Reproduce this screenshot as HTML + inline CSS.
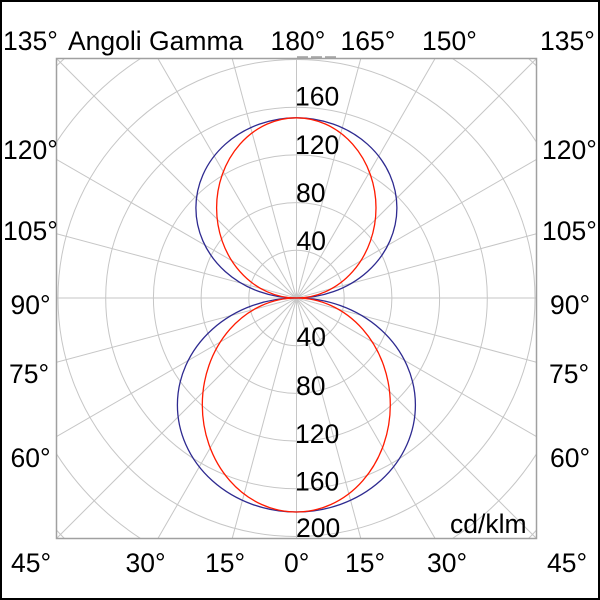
<!DOCTYPE html>
<html>
<head>
<meta charset="utf-8">
<style>
  html, body { margin:0; padding:0; background:#fff; width:600px; height:600px; overflow:hidden; }
  svg { display:block; }
  text { font-family: "Liberation Sans", Arial, sans-serif; font-size:26.5px; fill:#000; }
</style>
</head>
<body>
<svg width="600" height="600" viewBox="0 0 600 600" xmlns="http://www.w3.org/2000/svg">
  <defs>
    <clipPath id="box">
      <rect x="56.5" y="58.5" width="480" height="480"/>
    </clipPath>
  </defs>
  <rect x="0" y="0" width="600" height="600" fill="#fff"/>

  <g clip-path="url(#box)" stroke="#c6c6c6" stroke-width="1" fill="none">
    <circle cx="296.5" cy="298" r="47.7"/>
    <circle cx="296.5" cy="298" r="95.4"/>
    <circle cx="296.5" cy="298" r="143.1"/>
    <circle cx="296.5" cy="298" r="190.8"/>
    <circle cx="296.5" cy="298" r="238.5"/>
    <!-- r=286.2 corner arcs -->
    <path d="M56.5 142.1 A286.2 286.2 0 0 1 140.6 58.5"/>
    <path d="M452.4 58.5 A286.2 286.2 0 0 1 536.5 142.1"/>
    <path d="M536.5 453.9 A286.2 286.2 0 0 1 452.4 538.5"/>
    <path d="M140.6 538.5 A286.2 286.2 0 0 1 56.5 453.9"/>
    <!-- r=333.9 corner arcs -->
    <path d="M56.5 65.9 A333.9 333.9 0 0 1 64.4 58.5"/>
    <path d="M528.6 58.5 A333.9 333.9 0 0 1 536.5 65.9"/>
    <path d="M536.5 530.1 A333.9 333.9 0 0 1 528.6 538.5"/>
    <path d="M64.4 538.5 A333.9 333.9 0 0 1 56.5 530.1"/>
    <!-- spokes every 15 deg -->
    <line x1="296.5" y1="58.5" x2="296.5" y2="538.5"/>
    <line x1="56.5" y1="298" x2="536.5" y2="298"/>
    <line x1="232.2" y1="58.5" x2="360.8" y2="538.5"/>
    <line x1="360.8" y1="58.5" x2="232.2" y2="538.5"/>
    <line x1="157.9" y1="58.5" x2="435.1" y2="538.5"/>
    <line x1="435.1" y1="58.5" x2="157.9" y2="538.5"/>
    <line x1="56.5" y1="58.5" x2="536.5" y2="538.5"/>
    <line x1="536.5" y1="58.5" x2="56.5" y2="538.5"/>
    <line x1="56.5" y1="159.4" x2="536.5" y2="436.6"/>
    <line x1="536.5" y1="159.4" x2="56.5" y2="436.6"/>
    <line x1="56.5" y1="233.7" x2="536.5" y2="362.3"/>
    <line x1="536.5" y1="233.7" x2="56.5" y2="362.3"/>
  </g>

  <line x1="297" y1="57" x2="338" y2="57" stroke="#8a8a8a" stroke-width="1.2" stroke-dasharray="11,3"/>

  <rect x="56.5" y="58.5" width="480" height="480" fill="none" stroke="#a0a0a0" stroke-width="1.5"/>

  <g fill="none" stroke-width="1.3">
    <ellipse cx="296.4" cy="207.9" rx="100.5" ry="90.1" stroke="#2e2a90"/>
    <ellipse cx="296.4" cy="405" rx="119" ry="107" stroke="#2e2a90"/>
    <ellipse cx="296.3" cy="207.9" rx="79.7" ry="90.1" stroke="#ff1a00"/>
    <ellipse cx="296.3" cy="405" rx="94" ry="107" stroke="#ff1a00"/>
  </g>

  <text x="3" y="50">135°</text>
  <text x="68" y="50">Angoli Gamma</text>
  <text x="270.5" y="50">180°</text>
  <text x="340.5" y="50">165°</text>
  <text x="422" y="50">150°</text>
  <text x="540" y="50">135°</text>

  <text x="3" y="159">120°</text>
  <text x="3" y="240">105°</text>
  <text x="10.5" y="314">90°</text>
  <text x="9" y="383">75°</text>
  <text x="10.5" y="467">60°</text>

  <text x="542" y="159">120°</text>
  <text x="542" y="240">105°</text>
  <text x="550" y="314">90°</text>
  <text x="549" y="383">75°</text>
  <text x="550" y="467">60°</text>

  <text x="11" y="572">45°</text>
  <text x="125.5" y="572">30°</text>
  <text x="205" y="572">15°</text>
  <text x="284" y="572">0°</text>
  <text x="345" y="572">15°</text>
  <text x="427" y="572">30°</text>
  <text x="547" y="572">45°</text>

  <text x="295" y="105.7">160</text>
  <text x="295" y="154">120</text>
  <text x="296" y="202">80</text>
  <text x="296.5" y="250">40</text>

  <text x="296.5" y="346">40</text>
  <text x="296" y="395">80</text>
  <text x="295" y="443">120</text>
  <text x="295" y="490.7">160</text>
  <text x="296" y="537">200</text>

  <text x="450" y="533">cd/klm</text>

  <rect x="1" y="1" width="598" height="598" fill="none" stroke="#000" stroke-width="2"/>
</svg>
</body>
</html>
